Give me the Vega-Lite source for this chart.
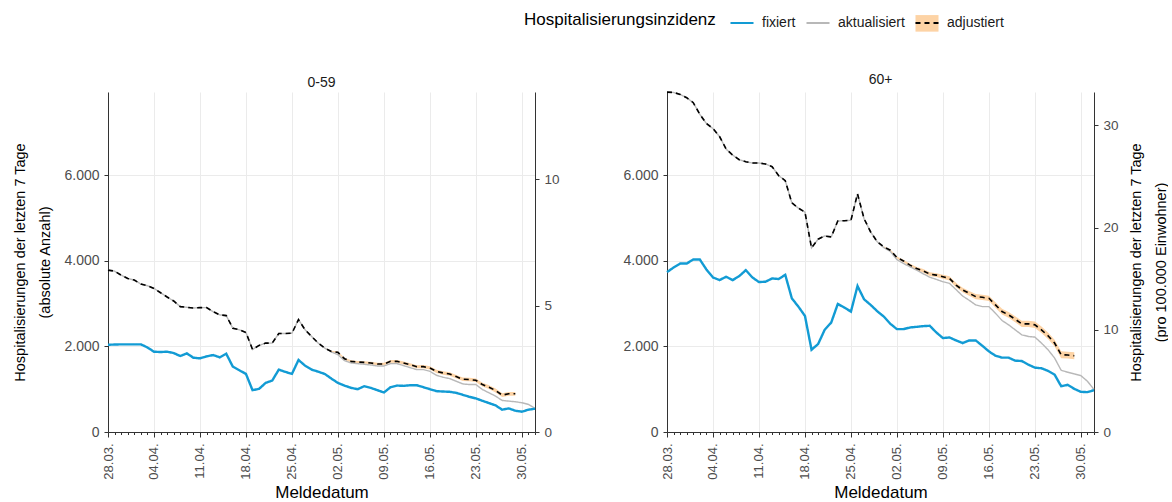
{
"$schema": "https://vega.github.io/schema/vega-lite/v6.json",
"background": "white",
"padding": {"left": 12, "right": 0, "top": 10, "bottom": 0},
"spacing": 62,
"config": {
  "view": {"stroke": null},
  "font": "Liberation Sans",
  "axis": {"labelColor": "#4d4d4d", "labelFontSize": 14, "labelFont": "Liberation Sans", "titleFont": "Liberation Sans", "titleFontSize": 17, "titleFontWeight": "normal", "titleColor": "#000000", "gridColor": "#ebebeb", "gridWidth": 1, "domainColor": "#333333", "tickColor": "#333333", "domainWidth": 1},
  "title": {"fontSize": 14, "fontWeight": "normal", "color": "#1a1a1a", "offset": 2, "font": "Liberation Sans"}
},
"datasets": {"h": [
{"g":"0-59","d":"2022-03-28","fixiert":2040,"aktualisiert":3785,"adjustiert":3785},
{"g":"0-59","d":"2022-03-29","fixiert":2045,"aktualisiert":3761,"adjustiert":3761},
{"g":"0-59","d":"2022-03-30","fixiert":2050,"aktualisiert":3668,"adjustiert":3668},
{"g":"0-59","d":"2022-03-31","fixiert":2050,"aktualisiert":3591,"adjustiert":3591},
{"g":"0-59","d":"2022-04-01","fixiert":2050,"aktualisiert":3552,"adjustiert":3552},
{"g":"0-59","d":"2022-04-02","fixiert":2050,"aktualisiert":3459,"adjustiert":3459},
{"g":"0-59","d":"2022-04-03","fixiert":1977,"aktualisiert":3420,"adjustiert":3420},
{"g":"0-59","d":"2022-04-04","fixiert":1877,"aktualisiert":3358,"adjustiert":3358},
{"g":"0-59","d":"2022-04-05","fixiert":1870,"aktualisiert":3257,"adjustiert":3257},
{"g":"0-59","d":"2022-04-06","fixiert":1877,"aktualisiert":3156,"adjustiert":3156},
{"g":"0-59","d":"2022-04-07","fixiert":1846,"aktualisiert":3063,"adjustiert":3063},
{"g":"0-59","d":"2022-04-08","fixiert":1776,"aktualisiert":2932,"adjustiert":2932},
{"g":"0-59","d":"2022-04-09","fixiert":1838,"aktualisiert":2916,"adjustiert":2916},
{"g":"0-59","d":"2022-04-10","fixiert":1737,"aktualisiert":2900,"adjustiert":2900},
{"g":"0-59","d":"2022-04-11","fixiert":1722,"aktualisiert":2908,"adjustiert":2908},
{"g":"0-59","d":"2022-04-12","fixiert":1768,"aktualisiert":2908,"adjustiert":2908},
{"g":"0-59","d":"2022-04-13","fixiert":1800,"aktualisiert":2815,"adjustiert":2815},
{"g":"0-59","d":"2022-04-14","fixiert":1745,"aktualisiert":2738,"adjustiert":2738},
{"g":"0-59","d":"2022-04-15","fixiert":1830,"aktualisiert":2722,"adjustiert":2722},
{"g":"0-59","d":"2022-04-16","fixiert":1528,"aktualisiert":2427,"adjustiert":2427},
{"g":"0-59","d":"2022-04-17","fixiert":1443,"aktualisiert":2389,"adjustiert":2389},
{"g":"0-59","d":"2022-04-18","fixiert":1358,"aktualisiert":2327,"adjustiert":2327},
{"g":"0-59","d":"2022-04-19","fixiert":978,"aktualisiert":1931,"adjustiert":1931},
{"g":"0-59","d":"2022-04-20","fixiert":1009,"aktualisiert":2025,"adjustiert":2025},
{"g":"0-59","d":"2022-04-21","fixiert":1148,"aktualisiert":2079,"adjustiert":2079},
{"g":"0-59","d":"2022-04-22","fixiert":1203,"aktualisiert":2079,"adjustiert":2079},
{"g":"0-59","d":"2022-04-23","fixiert":1459,"aktualisiert":2304,"adjustiert":2304},
{"g":"0-59","d":"2022-04-24","fixiert":1405,"aktualisiert":2304,"adjustiert":2304},
{"g":"0-59","d":"2022-04-25","fixiert":1358,"aktualisiert":2311,"adjustiert":2311},
{"g":"0-59","d":"2022-04-26","fixiert":1684,"aktualisiert":2629,"adjustiert":2629},
{"g":"0-59","d":"2022-04-27","fixiert":1552,"aktualisiert":2389,"adjustiert":2389},
{"g":"0-59","d":"2022-04-28","fixiert":1459,"aktualisiert":2234,"adjustiert":2234},
{"g":"0-59","d":"2022-04-29","fixiert":1410,"aktualisiert":2079,"adjustiert":2079},
{"g":"0-59","d":"2022-04-30","fixiert":1357,"aktualisiert":1962,"adjustiert":1962,"lo":1952,"hi":1972},
{"g":"0-59","d":"2022-05-01","fixiert":1249,"aktualisiert":1870,"adjustiert":1885,"lo":1870,"hi":1900},
{"g":"0-59","d":"2022-05-02","fixiert":1148,"aktualisiert":1808,"adjustiert":1862,"lo":1842,"hi":1882},
{"g":"0-59","d":"2022-05-03","fixiert":1086,"aktualisiert":1668,"adjustiert":1714,"lo":1692,"hi":1736},
{"g":"0-59","d":"2022-05-04","fixiert":1032,"aktualisiert":1614,"adjustiert":1652,"lo":1627,"hi":1677},
{"g":"0-59","d":"2022-05-05","fixiert":1001,"aktualisiert":1598,"adjustiert":1637,"lo":1612,"hi":1662},
{"g":"0-59","d":"2022-05-06","fixiert":1071,"aktualisiert":1583,"adjustiert":1629,"lo":1602,"hi":1656},
{"g":"0-59","d":"2022-05-07","fixiert":1032,"aktualisiert":1567,"adjustiert":1614,"lo":1586,"hi":1642},
{"g":"0-59","d":"2022-05-08","fixiert":978,"aktualisiert":1544,"adjustiert":1590,"lo":1560,"hi":1620},
{"g":"0-59","d":"2022-05-09","fixiert":924,"aktualisiert":1544,"adjustiert":1590,"lo":1560,"hi":1620},
{"g":"0-59","d":"2022-05-10","fixiert":1048,"aktualisiert":1598,"adjustiert":1652,"lo":1620,"hi":1684},
{"g":"0-59","d":"2022-05-11","fixiert":1086,"aktualisiert":1598,"adjustiert":1652,"lo":1619,"hi":1685},
{"g":"0-59","d":"2022-05-12","fixiert":1079,"aktualisiert":1552,"adjustiert":1614,"lo":1581,"hi":1647},
{"g":"0-59","d":"2022-05-13","fixiert":1094,"aktualisiert":1505,"adjustiert":1575,"lo":1540,"hi":1610},
{"g":"0-59","d":"2022-05-14","fixiert":1094,"aktualisiert":1459,"adjustiert":1528,"lo":1493,"hi":1563},
{"g":"0-59","d":"2022-05-15","fixiert":1048,"aktualisiert":1459,"adjustiert":1528,"lo":1492,"hi":1564},
{"g":"0-59","d":"2022-05-16","fixiert":1001,"aktualisiert":1420,"adjustiert":1497,"lo":1459,"hi":1535},
{"g":"0-59","d":"2022-05-17","fixiert":955,"aktualisiert":1326,"adjustiert":1420,"lo":1382,"hi":1458},
{"g":"0-59","d":"2022-05-18","fixiert":947,"aktualisiert":1280,"adjustiert":1381,"lo":1341,"hi":1421},
{"g":"0-59","d":"2022-05-19","fixiert":940,"aktualisiert":1249,"adjustiert":1357,"lo":1317,"hi":1397},
{"g":"0-59","d":"2022-05-20","fixiert":916,"aktualisiert":1187,"adjustiert":1295,"lo":1255,"hi":1335},
{"g":"0-59","d":"2022-05-21","fixiert":870,"aktualisiert":1125,"adjustiert":1233,"lo":1191,"hi":1275},
{"g":"0-59","d":"2022-05-22","fixiert":823,"aktualisiert":1109,"adjustiert":1226,"lo":1184,"hi":1268},
{"g":"0-59","d":"2022-05-23","fixiert":785,"aktualisiert":1109,"adjustiert":1210,"lo":1167,"hi":1253},
{"g":"0-59","d":"2022-05-24","fixiert":730,"aktualisiert":993,"adjustiert":1109,"lo":1064,"hi":1154},
{"g":"0-59","d":"2022-05-25","fixiert":676,"aktualisiert":916,"adjustiert":1048,"lo":1003,"hi":1093},
{"g":"0-59","d":"2022-05-26","fixiert":622,"aktualisiert":838,"adjustiert":970,"lo":925,"hi":1015},
{"g":"0-59","d":"2022-05-27","fixiert":521,"aktualisiert":738,"adjustiert":862,"lo":817,"hi":907},
{"g":"0-59","d":"2022-05-28","fixiert":552,"aktualisiert":722,"adjustiert":893,"lo":848,"hi":938},
{"g":"0-59","d":"2022-05-29","fixiert":498,"aktualisiert":707,"adjustiert":893,"lo":848,"hi":938},
{"g":"0-59","d":"2022-05-30","fixiert":475,"aktualisiert":684},
{"g":"0-59","d":"2022-05-31","fixiert":521,"aktualisiert":645},
{"g":"0-59","d":"2022-06-01","fixiert":545,"aktualisiert":552},
{"g":"60+","d":"2022-03-28","fixiert":3738,"aktualisiert":7948,"adjustiert":7948},
{"g":"60+","d":"2022-03-29","fixiert":3846,"aktualisiert":7940,"adjustiert":7940},
{"g":"60+","d":"2022-03-30","fixiert":3939,"aktualisiert":7894,"adjustiert":7894},
{"g":"60+","d":"2022-03-31","fixiert":3939,"aktualisiert":7816,"adjustiert":7816},
{"g":"60+","d":"2022-04-01","fixiert":4033,"aktualisiert":7700,"adjustiert":7700},
{"g":"60+","d":"2022-04-02","fixiert":4033,"aktualisiert":7429,"adjustiert":7429},
{"g":"60+","d":"2022-04-03","fixiert":3800,"aktualisiert":7212,"adjustiert":7212},
{"g":"60+","d":"2022-04-04","fixiert":3614,"aktualisiert":7095,"adjustiert":7095},
{"g":"60+","d":"2022-04-05","fixiert":3552,"aktualisiert":6909,"adjustiert":6909},
{"g":"60+","d":"2022-04-06","fixiert":3630,"aktualisiert":6615,"adjustiert":6615},
{"g":"60+","d":"2022-04-07","fixiert":3552,"aktualisiert":6475,"adjustiert":6475},
{"g":"60+","d":"2022-04-08","fixiert":3645,"aktualisiert":6366,"adjustiert":6366},
{"g":"60+","d":"2022-04-09","fixiert":3785,"aktualisiert":6320,"adjustiert":6320},
{"g":"60+","d":"2022-04-10","fixiert":3614,"aktualisiert":6289,"adjustiert":6289},
{"g":"60+","d":"2022-04-11","fixiert":3506,"aktualisiert":6289,"adjustiert":6289},
{"g":"60+","d":"2022-04-12","fixiert":3514,"aktualisiert":6266,"adjustiert":6266},
{"g":"60+","d":"2022-04-13","fixiert":3591,"aktualisiert":6204,"adjustiert":6204},
{"g":"60+","d":"2022-04-14","fixiert":3576,"aktualisiert":5994,"adjustiert":5994},
{"g":"60+","d":"2022-04-15","fixiert":3676,"aktualisiert":5878,"adjustiert":5878},
{"g":"60+","d":"2022-04-16","fixiert":3126,"aktualisiert":5359,"adjustiert":5359},
{"g":"60+","d":"2022-04-17","fixiert":2932,"aktualisiert":5235,"adjustiert":5235},
{"g":"60+","d":"2022-04-18","fixiert":2714,"aktualisiert":5142,"adjustiert":5142},
{"g":"60+","d":"2022-04-19","fixiert":1924,"aktualisiert":4305,"adjustiert":4305},
{"g":"60+","d":"2022-04-20","fixiert":2056,"aktualisiert":4507,"adjustiert":4507},
{"g":"60+","d":"2022-04-21","fixiert":2389,"aktualisiert":4584,"adjustiert":4584},
{"g":"60+","d":"2022-04-22","fixiert":2560,"aktualisiert":4561,"adjustiert":4561},
{"g":"60+","d":"2022-04-23","fixiert":2994,"aktualisiert":4933,"adjustiert":4933},
{"g":"60+","d":"2022-04-24","fixiert":2909,"aktualisiert":4941,"adjustiert":4941},
{"g":"60+","d":"2022-04-25","fixiert":2816,"aktualisiert":4949,"adjustiert":4949},
{"g":"60+","d":"2022-04-26","fixiert":3413,"aktualisiert":5569,"adjustiert":5569},
{"g":"60+","d":"2022-04-27","fixiert":3103,"aktualisiert":4987,"adjustiert":4987},
{"g":"60+","d":"2022-04-28","fixiert":2971,"aktualisiert":4677,"adjustiert":4677},
{"g":"60+","d":"2022-04-29","fixiert":2825,"aktualisiert":4450,"adjustiert":4450},
{"g":"60+","d":"2022-04-30","fixiert":2699,"aktualisiert":4310,"adjustiert":4327,"lo":4312,"hi":4342},
{"g":"60+","d":"2022-05-01","fixiert":2529,"aktualisiert":4220,"adjustiert":4250,"lo":4230,"hi":4270},
{"g":"60+","d":"2022-05-02","fixiert":2405,"aktualisiert":4030,"adjustiert":4080,"lo":4055,"hi":4105},
{"g":"60+","d":"2022-05-03","fixiert":2405,"aktualisiert":3940,"adjustiert":4000,"lo":3970,"hi":4030},
{"g":"60+","d":"2022-05-04","fixiert":2444,"aktualisiert":3862,"adjustiert":3901,"lo":3866,"hi":3936},
{"g":"60+","d":"2022-05-05","fixiert":2459,"aktualisiert":3785,"adjustiert":3823,"lo":3785,"hi":3861},
{"g":"60+","d":"2022-05-06","fixiert":2475,"aktualisiert":3700,"adjustiert":3769,"lo":3729,"hi":3809},
{"g":"60+","d":"2022-05-07","fixiert":2483,"aktualisiert":3620,"adjustiert":3692,"lo":3650,"hi":3734},
{"g":"60+","d":"2022-05-08","fixiert":2327,"aktualisiert":3568,"adjustiert":3668,"lo":3623,"hi":3713},
{"g":"60+","d":"2022-05-09","fixiert":2196,"aktualisiert":3514,"adjustiert":3630,"lo":3583,"hi":3677},
{"g":"60+","d":"2022-05-10","fixiert":2211,"aktualisiert":3475,"adjustiert":3591,"lo":3541,"hi":3641},
{"g":"60+","d":"2022-05-11","fixiert":2141,"aktualisiert":3330,"adjustiert":3436,"lo":3384,"hi":3488},
{"g":"60+","d":"2022-05-12","fixiert":2079,"aktualisiert":3180,"adjustiert":3320,"lo":3265,"hi":3375},
{"g":"60+","d":"2022-05-13","fixiert":2141,"aktualisiert":3080,"adjustiert":3242,"lo":3185,"hi":3299},
{"g":"60+","d":"2022-05-14","fixiert":2141,"aktualisiert":2971,"adjustiert":3165,"lo":3105,"hi":3225},
{"g":"60+","d":"2022-05-15","fixiert":2017,"aktualisiert":2932,"adjustiert":3149,"lo":3089,"hi":3209},
{"g":"60+","d":"2022-05-16","fixiert":1885,"aktualisiert":2932,"adjustiert":3126,"lo":3064,"hi":3188},
{"g":"60+","d":"2022-05-17","fixiert":1784,"aktualisiert":2777,"adjustiert":2971,"lo":2906,"hi":3036},
{"g":"60+","d":"2022-05-18","fixiert":1738,"aktualisiert":2607,"adjustiert":2816,"lo":2749,"hi":2883},
{"g":"60+","d":"2022-05-19","fixiert":1738,"aktualisiert":2506,"adjustiert":2738,"lo":2670,"hi":2806},
{"g":"60+","d":"2022-05-20","fixiert":1668,"aktualisiert":2389,"adjustiert":2637,"lo":2567,"hi":2707},
{"g":"60+","d":"2022-05-21","fixiert":1660,"aktualisiert":2273,"adjustiert":2529,"lo":2457,"hi":2601},
{"g":"60+","d":"2022-05-22","fixiert":1575,"aktualisiert":2234,"adjustiert":2529,"lo":2457,"hi":2601},
{"g":"60+","d":"2022-05-23","fixiert":1505,"aktualisiert":2219,"adjustiert":2506,"lo":2431,"hi":2581},
{"g":"60+","d":"2022-05-24","fixiert":1490,"aktualisiert":2079,"adjustiert":2389,"lo":2314,"hi":2464},
{"g":"60+","d":"2022-05-25","fixiert":1428,"aktualisiert":1924,"adjustiert":2250,"lo":2172,"hi":2328},
{"g":"60+","d":"2022-05-26","fixiert":1342,"aktualisiert":1730,"adjustiert":2079,"lo":2001,"hi":2157},
{"g":"60+","d":"2022-05-27","fixiert":1071,"aktualisiert":1443,"adjustiert":1807,"lo":1727,"hi":1887},
{"g":"60+","d":"2022-05-28","fixiert":1102,"aktualisiert":1397,"adjustiert":1799,"lo":1719,"hi":1879},
{"g":"60+","d":"2022-05-29","fixiert":1009,"aktualisiert":1358,"adjustiert":1784,"lo":1704,"hi":1864},
{"g":"60+","d":"2022-05-30","fixiert":939,"aktualisiert":1319},
{"g":"60+","d":"2022-05-31","fixiert":932,"aktualisiert":1187},
{"g":"60+","d":"2022-06-01","fixiert":978,"aktualisiert":994}
]},
"data": {"name": "h"},
"hconcat": [
{
  "width": 427, "height": 340,
  "title": {"text": "0-59"},
  "transform": [{"filter": "datum.g == '0-59'"}],
  "layer": [
    {"layer": [
      {"transform": [{"filter": "isValid(datum.lo)"}, {"fold": ["adjustiert"], "as": ["serie", "wert"]}],
       "mark": {"type": "area"},
       "encoding": {
         "x": {"field": "d", "type": "temporal", "scale": {"type": "utc", "domain": [{"year": 2022, "month": 3, "date": 28, "utc": true}, {"year": 2022, "month": 6, "date": 1, "utc": true}], "nice": false},
               "axis": {"title": "Meldedatum", "tickCount": {"interval": "day", "step": 1}, "labelExpr": "utcday(datum.value) == 1 ? utcFormat(datum.value, '%d.%m.') : ''", "labelAngle": -90, "labelAlign": "right", "labelBaseline": "middle", "labelFontSize": 13, "labelOverlap": false, "labelFlush": false, "labelBound": false, "labelPadding": 6, "tickSize": {"condition": {"test": "utcday(datum.value) == 1", "value": 5}, "value": 2.5}, "grid": true, "gridOpacity": {"condition": {"test": "utcday(datum.value) == 1", "value": 1}, "value": 0}, "titlePadding": 5}},
         "y": {"field": "lo", "type": "quantitative", "scale": {"domain": [0, 7950], "nice": false}, "axis": {"values": [0, 2000, 4000, 6000], "labelExpr": "replace(format(datum.value, ','), ',', '.')", "title": ["Hospitalisierungen der letzten 7 Tage", "(absolute Anzahl)"], "titleLineHeight": 25, "titleFontSize": 14.5, "titlePadding": 11, "tickSize": 4, "labelPadding": 5, "grid": true}},
         "y2": {"field": "hi"},
         "fill": {"field": "serie", "type": "nominal", "scale": {"domain": ["fixiert", "aktualisiert", "adjustiert", "-"], "range": ["rgba(0,0,0,0)", "rgba(0,0,0,0)", "#fdd3a5", "rgba(0,0,0,0)"]},
                  "legend": {"orient": "none", "legendX": 621, "legendY": -82, "direction": "horizontal", "title": null, "labelFontSize": 14, "labelOpacity": 0, "symbolType": "M-1,-0.72H1V0.72H-1Z", "symbolSize": 530, "symbolStrokeWidth": 2, "symbolStrokeColor": "transparent", "columnPadding": 6, "labelOffset": 7}}
       }},
      {"transform": [{"fold": ["aktualisiert", "fixiert", "adjustiert"], "as": ["serie", "wert"]}],
       "encoding": {
         "x": {"field": "d", "type": "temporal"},
         "y": {"field": "wert", "type": "quantitative"},
         "stroke": {"field": "serie", "type": "nominal", "scale": {"domain": ["fixiert", "aktualisiert", "adjustiert"], "range": ["#129bd4", "#b8b8b8", "#000000"]},
                    "legend": {"orient": "none", "legendX": 416, "legendY": -82, "direction": "horizontal", "title": "Hospitalisierungsinzidenz", "titleLimit": 400, "titleOrient": "left", "titleFontSize": 17, "titleFontWeight": "normal", "titleColor": "#000000", "titlePadding": 13, "labelFontSize": 14, "labelColor": "#1a1a1a", "symbolType": "stroke", "symbolSize": 530, "symbolStrokeWidth": 2, "columnPadding": 6, "labelOffset": 7}},
         "strokeDash": {"field": "serie", "type": "nominal", "scale": {"domain": ["fixiert", "aktualisiert", "adjustiert"], "range": [[1, 0], [1, 0], [5, 4]]},
                    "legend": {"orient": "none", "legendX": 416, "legendY": -82, "direction": "horizontal", "title": "Hospitalisierungsinzidenz", "titleLimit": 400, "titleOrient": "left", "titleFontSize": 17, "titleFontWeight": "normal", "titleColor": "#000000", "titlePadding": 13, "labelFontSize": 14, "labelColor": "#1a1a1a", "symbolType": "stroke", "symbolSize": 530, "symbolStrokeWidth": 2, "columnPadding": 6, "labelOffset": 7}}
       },
       "layer": [
         {"transform": [{"filter": "datum.serie == 'aktualisiert'"}], "mark": {"type": "line", "strokeWidth": 1.4}},
         {"transform": [{"filter": "datum.serie == 'fixiert'"}], "mark": {"type": "line", "strokeWidth": 2.4}},
         {"transform": [{"filter": "datum.serie == 'adjustiert'"}], "mark": {"type": "line", "strokeWidth": 1.6}}
       ]}
    ]},
    {"mark": {"type": "rule", "opacity": 0},
     "encoding": {"y": {"datum": 0, "type": "quantitative", "scale": {"domain": [0, 13.45], "nice": false}, "axis": {"orient": "right", "values": [0, 5, 10], "title": null, "grid": false, "tickSize": 4, "labelPadding": 5, "labelFontSize": 13.5}}}}
  ],
  "resolve": {"scale": {"y": "independent"}}
},
{
  "width": 427, "height": 340,
  "title": {"text": "60+"},
  "transform": [{"filter": "datum.g == '60+'"}],
  "layer": [
    {"layer": [
      {"transform": [{"filter": "isValid(datum.lo)"}, {"fold": ["adjustiert"], "as": ["serie", "wert"]}],
       "mark": {"type": "area"},
       "encoding": {
         "x": {"field": "d", "type": "temporal", "scale": {"type": "utc", "domain": [{"year": 2022, "month": 3, "date": 28, "utc": true}, {"year": 2022, "month": 6, "date": 1, "utc": true}], "nice": false},
               "axis": {"title": "Meldedatum", "tickCount": {"interval": "day", "step": 1}, "labelExpr": "utcday(datum.value) == 1 ? utcFormat(datum.value, '%d.%m.') : ''", "labelAngle": -90, "labelAlign": "right", "labelBaseline": "middle", "labelFontSize": 13, "labelOverlap": false, "labelFlush": false, "labelBound": false, "labelPadding": 6, "tickSize": {"condition": {"test": "utcday(datum.value) == 1", "value": 5}, "value": 2.5}, "grid": true, "gridOpacity": {"condition": {"test": "utcday(datum.value) == 1", "value": 1}, "value": 0}, "titlePadding": 5}},
         "y": {"field": "lo", "type": "quantitative", "scale": {"domain": [0, 7950], "nice": false}, "axis": {"values": [0, 2000, 4000, 6000], "labelExpr": "replace(format(datum.value, ','), ',', '.')", "title": null, "tickSize": 4, "labelPadding": 5, "grid": true}},
         "y2": {"field": "hi"},
         "fill": {"field": "serie", "type": "nominal", "scale": {"domain": ["fixiert", "aktualisiert", "adjustiert", "-"], "range": ["rgba(0,0,0,0)", "rgba(0,0,0,0)", "#fdd3a5", "rgba(0,0,0,0)"]},
                  "legend": {"orient": "none", "legendX": 621, "legendY": -82, "direction": "horizontal", "title": null, "labelFontSize": 14, "labelOpacity": 0, "symbolType": "M-1,-0.72H1V0.72H-1Z", "symbolSize": 530, "symbolStrokeWidth": 2, "symbolStrokeColor": "transparent", "columnPadding": 6, "labelOffset": 7}}
       }},
      {"transform": [{"fold": ["aktualisiert", "fixiert", "adjustiert"], "as": ["serie", "wert"]}],
       "encoding": {
         "x": {"field": "d", "type": "temporal"},
         "y": {"field": "wert", "type": "quantitative"},
         "stroke": {"field": "serie", "type": "nominal", "scale": {"domain": ["fixiert", "aktualisiert", "adjustiert"], "range": ["#129bd4", "#b8b8b8", "#000000"]},
                    "legend": {"orient": "none", "legendX": 416, "legendY": -82, "direction": "horizontal", "title": "Hospitalisierungsinzidenz", "titleLimit": 400, "titleOrient": "left", "titleFontSize": 17, "titleFontWeight": "normal", "titleColor": "#000000", "titlePadding": 13, "labelFontSize": 14, "labelColor": "#1a1a1a", "symbolType": "stroke", "symbolSize": 530, "symbolStrokeWidth": 2, "columnPadding": 6, "labelOffset": 7}},
         "strokeDash": {"field": "serie", "type": "nominal", "scale": {"domain": ["fixiert", "aktualisiert", "adjustiert"], "range": [[1, 0], [1, 0], [5, 4]]},
                    "legend": {"orient": "none", "legendX": 416, "legendY": -82, "direction": "horizontal", "title": "Hospitalisierungsinzidenz", "titleLimit": 400, "titleOrient": "left", "titleFontSize": 17, "titleFontWeight": "normal", "titleColor": "#000000", "titlePadding": 13, "labelFontSize": 14, "labelColor": "#1a1a1a", "symbolType": "stroke", "symbolSize": 530, "symbolStrokeWidth": 2, "columnPadding": 6, "labelOffset": 7}}
       },
       "layer": [
         {"transform": [{"filter": "datum.serie == 'aktualisiert'"}], "mark": {"type": "line", "strokeWidth": 1.4}},
         {"transform": [{"filter": "datum.serie == 'fixiert'"}], "mark": {"type": "line", "strokeWidth": 2.4}},
         {"transform": [{"filter": "datum.serie == 'adjustiert'"}], "mark": {"type": "line", "strokeWidth": 1.6}}
       ]}
    ]},
    {"mark": {"type": "rule", "opacity": 0},
     "encoding": {"y": {"datum": 0, "type": "quantitative", "scale": {"domain": [0, 33.27], "nice": false}, "axis": {"orient": "right", "values": [0, 10, 20, 30], "title": ["Hospitalisierungen der letzten 7 Tage", "(pro 100.000 Einwohner)"], "titleAngle": -90, "titleLineHeight": 25, "titleFontSize": 14.5, "titlePadding": 0, "grid": false, "tickSize": 4, "labelPadding": 5, "labelFontSize": 13.5}}}}
  ],
  "resolve": {"scale": {"y": "independent"}}
}
]
}
